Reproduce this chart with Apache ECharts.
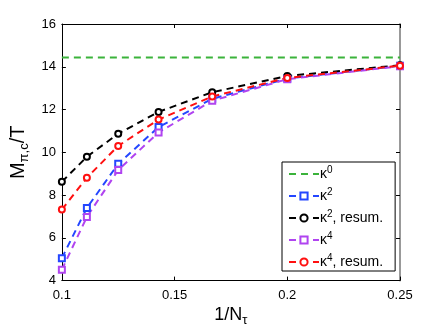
<!DOCTYPE html>
<html>
<head>
    <meta charset="utf-8" />
    <title></title>
    <script type="text/javascript" src="https://cdn.jsdelivr.net/npm/echarts@6/dist/echarts.min.js"></script>
    <style>
        html, body { margin: 0; padding: 0; background: #fff; }
        #con1 { width: 442px; height: 332px; }
    </style>
</head>
<body>
    <div id="con1"></div>
    <script type="text/javascript">
        // 1/N_tau for N_tau = 10, 9, 8, 7, 6, 5, 4
        var xVals = [0.1, 0.1111, 0.125, 0.1429, 0.1667, 0.2, 0.25];
        var k0Val = 14.43;
        var k2 = [5.05, 7.40, 9.46, 11.18, 12.50, 13.45, 14.05];
        var k2res = [8.62, 9.79, 10.87, 11.89, 12.81, 13.57, 14.07];
        var k4 = [4.51, 6.98, 9.17, 10.93, 12.41, 13.42, 14.03];
        var k4res = [7.32, 8.81, 10.30, 11.53, 12.61, 13.48, 14.05];
        var xTicks = [0.1, 0.15, 0.2, 0.25];
        var yTicks = [4, 6, 8, 10, 12, 14, 16];

        function pairs(arr) {
            return arr.map(function (v, i) { return [xVals[i], v]; });
        }

        var dash = [7, 5];
        function mkSeries(name, color, data, symbol) {
            return {
                name: name,
                type: 'line',
                data: data,
                symbol: symbol,
                symbolSize: 6,
                showSymbol: symbol !== 'none',
                lineStyle: { color: color, width: 2, type: dash },
                itemStyle: { color: color, borderColor: color, borderWidth: 2 },
                emphasis: { disabled: true },
                animation: false
            };
        }

        var myChart1 = echarts.init(document.getElementById('con1'), null, { renderer: 'canvas' });
        var option1 = {
            backgroundColor: '#ffffff',
            grid: { left: 58, right: 42, top: 24, bottom: 48 },
            legend: {
                orient: 'vertical',
                left: 282,
                top: 162,
                padding: [3, 12, 2, 6],
                itemGap: 6,
                itemWidth: 30,
                itemHeight: 9,
                borderColor: '#000',
                borderWidth: 1,
                backgroundColor: '#fff',
                formatter: function (n) {
                    return n.replace(/\^(\d)/, '{sup|$1}');
                },
                textStyle: {
                    fontFamily: 'Liberation Sans',
                    fontSize: 14,
                    color: '#000',
                    padding: [0, 0, 0, -4],
                    rich: {
                        sup: { fontSize: 10, verticalAlign: 'bottom', padding: [0, 0, 8, 0], color: '#000' }
                    }
                },
                data: [
                    { name: 'κ^0', itemStyle: { opacity: 0 } },
                    'κ^2', 'κ^2, resum.', 'κ^4', 'κ^4, resum.'
                ]
            },
            xAxis: [{
                type: 'value',
                min: 0.1,
                max: 0.25,
                interval: 0.05,
                name: '{a|1/N}{s|τ}',
                nameLocation: 'middle',
                nameGap: 20,
                nameTextStyle: {
                    rich: {
                        a: { fontFamily: 'Liberation Sans', fontSize: 18, color: '#000' },
                        s: { fontFamily: 'Liberation Sans', fontSize: 13, color: '#000', padding: [10, 0, 0, 0] }
                    }
                },
                axisLine: { lineStyle: { color: '#000', width: 1 } },
                axisTick: { inside: true, length: 4, lineStyle: { color: '#000' } },
                axisLabel: {
                    fontFamily: 'Liberation Sans', fontSize: 13, color: '#000', margin: 8,
                    formatter: function (v) { return xTicks.indexOf(+v.toFixed(2)) >= 0 ? String(+v.toFixed(2)) : ''; }
                },
                splitLine: { show: false }
            }, {
                type: 'value',
                position: 'top',
                min: 0.1,
                max: 0.25,
                interval: 0.05,
                axisLine: { show: true, lineStyle: { color: '#000', width: 1 } },
                axisTick: { inside: true, length: 4, lineStyle: { color: '#000' } },
                axisLabel: { show: false },
                splitLine: { show: false }
            }],
            yAxis: [{
                type: 'value',
                min: 4,
                max: 16,
                interval: 2,
                name: '{a|M}{s|π,c}{a|/T}',
                nameLocation: 'middle',
                nameGap: 28,
                nameRotate: 90,
                nameTextStyle: {
                    rich: {
                        a: { fontFamily: 'Liberation Sans', fontSize: 20, color: '#000' },
                        s: { fontFamily: 'Liberation Sans', fontSize: 13, color: '#000', padding: [12, 0, 0, 0] }
                    }
                },
                axisLine: { show: true, lineStyle: { color: '#000', width: 1 } },
                axisTick: { inside: true, length: 4, lineStyle: { color: '#000' } },
                axisLabel: {
                    fontFamily: 'Liberation Sans', fontSize: 13, color: '#000', margin: 6,
                    formatter: function (v) { return yTicks.indexOf(v) >= 0 ? String(v) : ''; }
                },
                splitLine: { show: false }
            }, {
                type: 'value',
                position: 'right',
                min: 4,
                max: 16,
                interval: 2,
                axisLine: { show: true, lineStyle: { color: '#999', width: 2 } },
                axisTick: { inside: true, length: 4, lineStyle: { color: '#000' } },
                axisLabel: { show: false },
                splitLine: { show: false }
            }],
            series: [
                mkSeries('κ^0', '#3bb33b', [[0.1, k0Val], [0.25, k0Val]], 'none'),
                mkSeries('κ^2', '#2446ff', pairs(k2), 'emptyRect'),
                mkSeries('κ^2, resum.', '#000000', pairs(k2res), 'emptyCircle'),
                mkSeries('κ^4', '#b044f0', pairs(k4), 'emptyRect'),
                mkSeries('κ^4, resum.', '#ff1010', pairs(k4res), 'emptyCircle')
            ]
        };
        option1 && myChart1.setOption(option1);
    </script>
</body>
</html>
